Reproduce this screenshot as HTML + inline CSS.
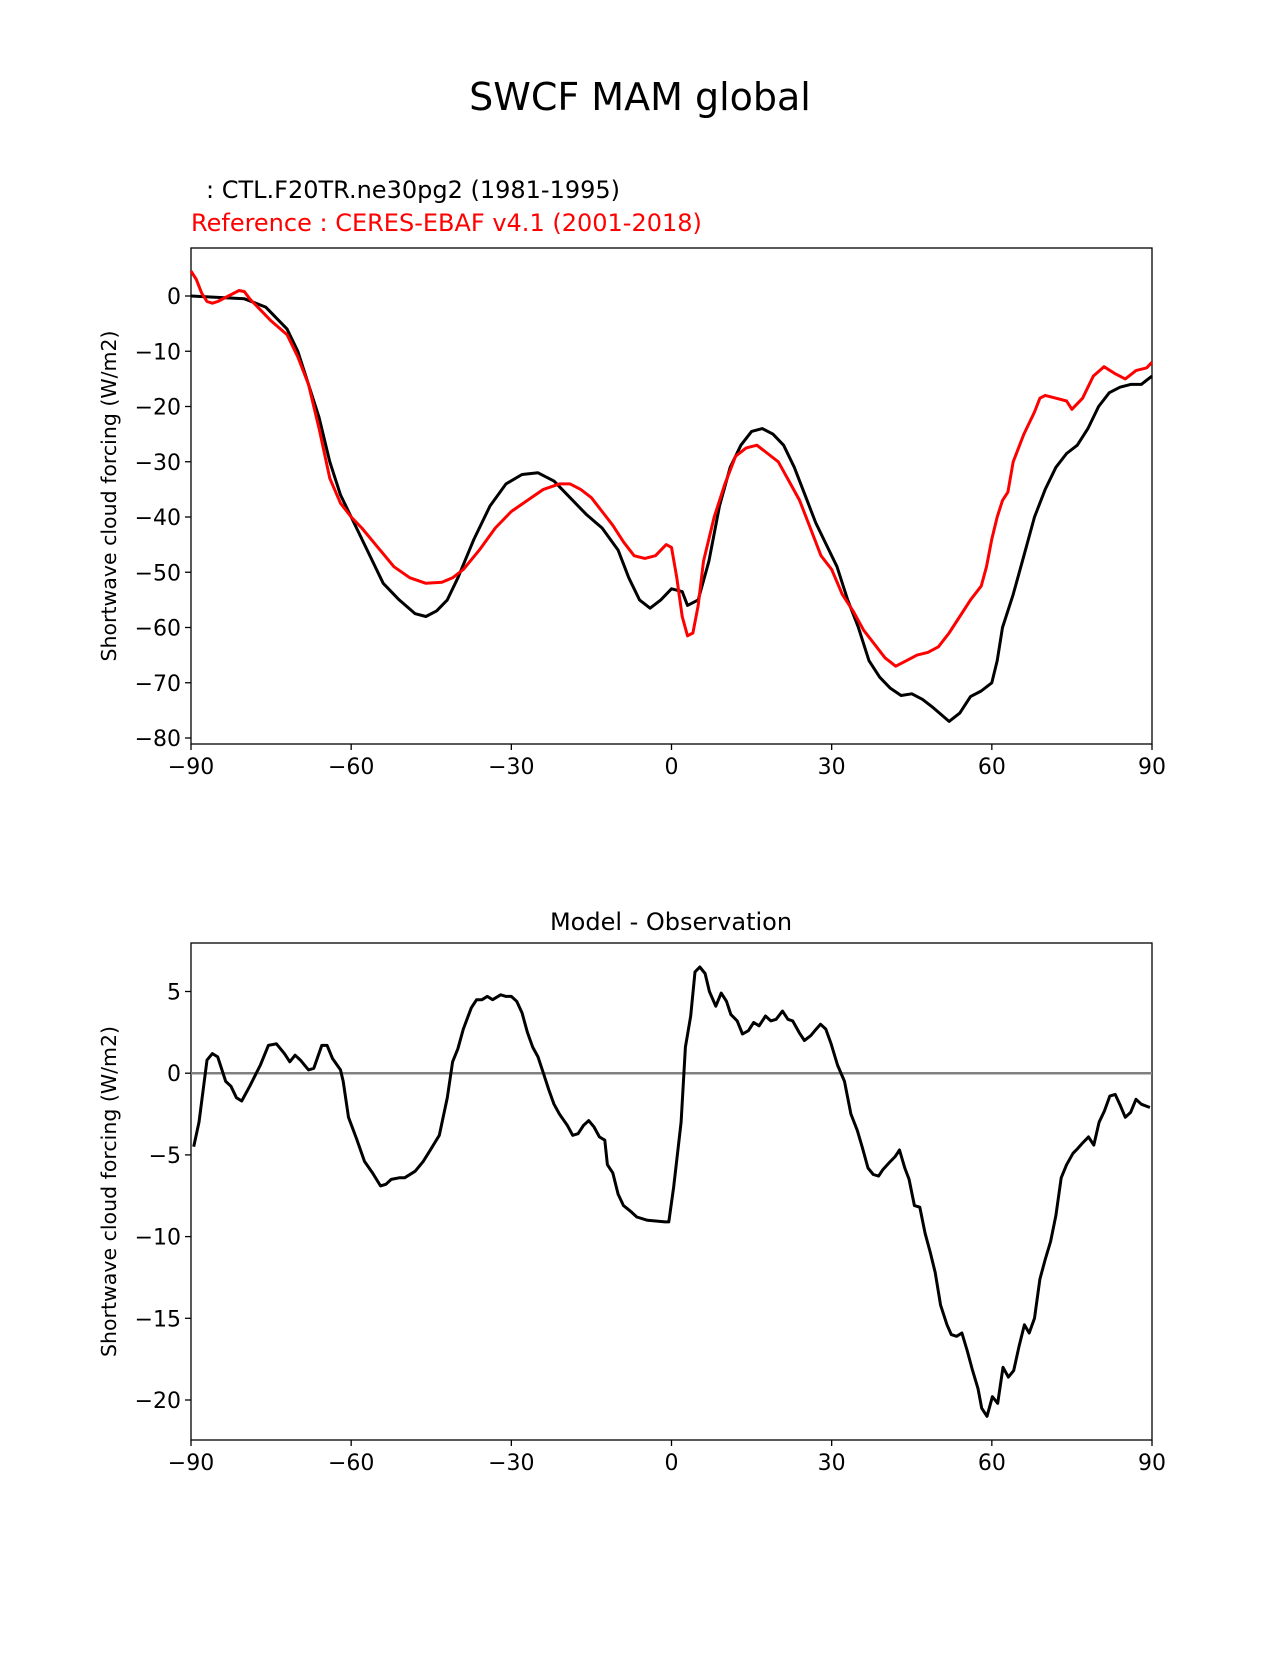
<!DOCTYPE html>
<html><head><meta charset="utf-8"><style>
body{margin:0;background:#fff;}
svg text{font-family:"DejaVu Sans","Liberation Sans",sans-serif;}
</style></head><body>
<svg id="fig" width="1275" height="1650" viewBox="0 0 1275 1650" xmlns="http://www.w3.org/2000/svg">
<rect width="1275" height="1650" fill="#fff"/>
<text x="640" y="110" font-size="38" text-anchor="middle">SWCF MAM global</text>
<text x="206" y="198" font-size="24">: CTL.F20TR.ne30pg2 (1981-1995)</text>
<text x="191" y="231" font-size="24" fill="#ff0000">Reference : CERES-EBAF v4.1 (2001-2018)</text>
<text x="671" y="930" font-size="24" text-anchor="middle">Model - Observation</text>
<g id="top"></g><g id="bot"></g>
</svg>
<script>
const modelLat=[-90,-80,-76,-72,-70,-68,-66,-64,-62,-60,-57,-54,-51,-48,-46,-44,-42,-40,-37,-34,-31,-28,-25,-22,-19,-16,-13,-10,-8,-6,-4,-2,0,2,3,5,7,9,11,13,15,17,19,21,23,25,27,29,31,33,35,37,39,41,43,45,47,49,52,54,56,58,60,61,62,64,66,68,70,72,74,76,78,80,82,84,86,88,90];
const modelVal=[0,-0.5,-2,-6,-10,-16,-22,-30,-36,-40,-46,-52,-55,-57.5,-58,-57,-55,-51,-44,-38,-34,-32.3,-32,-33.5,-36.5,-39.5,-42,-46,-51,-55,-56.5,-55,-53,-53.5,-56,-55,-48,-38,-31,-27,-24.5,-24,-25,-27,-31,-36,-41,-45,-49,-55,-60,-66,-69,-71,-72.3,-72,-73,-74.5,-77,-75.5,-72.5,-71.5,-70,-66,-60,-54,-47,-40,-35,-31,-28.5,-27,-24,-20,-17.5,-16.5,-16,-16,-14.5];
const refLat=[-90,-89,-88,-87,-86,-85,-83,-81,-80,-79,-77,-75,-72,-70,-68,-66,-64,-62,-60,-58,-55,-52,-49,-46,-43,-41,-39,-36,-33,-30,-27,-24,-21,-19,-17,-15,-13,-11,-9,-7,-5,-3,-1,0,1,2,3,4,5,6,8,10,12,14,16,18,20,22,24,26,28,30,32,34,36,38,40,42,44,46,48,50,52,54,56,58,59,60,61,62,63,64,66,68,69,70,72,74,75,77,79,81,83,85,87,89,90];
const refVal=[4.5,3,0.5,-1,-1.3,-1,0,1,0.8,-0.5,-2.5,-4.5,-7,-11,-16,-24,-33,-37.5,-40,-42,-45.5,-49,-51,-52,-51.8,-51,-49.5,-46,-42,-39,-37,-35,-34,-34,-35,-36.5,-39,-41.5,-44.5,-47,-47.5,-47,-45,-45.5,-51,-58,-61.5,-61,-56,-48,-40,-34,-29,-27.5,-27,-28.5,-30,-33.5,-37,-42,-47,-49.5,-54,-57,-60.5,-63,-65.5,-67,-66,-65,-64.5,-63.5,-61,-58,-55,-52.5,-49,-44,-40,-37,-35.5,-30,-25,-21,-18.5,-18,-18.5,-19,-20.5,-18.5,-14.5,-12.8,-14,-15,-13.5,-13,-12];
const diffLat=[-89.5,-88.5,-87,-86,-85,-83.5,-82.5,-81.5,-80.5,-79,-77,-75.5,-74,-72.5,-71.5,-70.5,-69.5,-68,-67,-65.5,-64.5,-63.5,-62,-61.5,-60.5,-59,-57.5,-56,-54.5,-53.5,-52.5,-51,-50,-48,-46.5,-45,-43.5,-42,-41,-40,-39,-37.5,-36.5,-35.5,-34.5,-33.5,-32,-31,-30,-29,-28,-27,-26,-25,-24,-23,-22,-21,-19.5,-18.5,-17.5,-16.5,-15.5,-14.5,-13.5,-12.5,-12,-11,-10,-9,-7.5,-6.5,-4.5,-1.2,-0.5,0.4,1.8,2.6,3.6,4.4,5.3,6.3,7.1,8.3,9.3,10.3,11.1,12.3,13.3,14.4,15.4,16.4,17.6,18.6,19.6,20.8,21.8,22.7,23.9,24.9,26.1,27.1,27.9,28.9,29.9,31.1,32.4,33.6,34.8,35.8,36.8,37.8,38.8,39.6,40.7,41.9,42.7,43.7,44.5,45.5,46.5,47.5,48.5,49.4,50.4,51.6,52.4,53.4,54.4,55.4,56.4,57.4,58.1,59.1,60.1,61.1,62.1,63.1,64.1,65.1,66.1,67,68,69,70,71,72,73,74,75.2,76.1,76.9,78.1,79.1,80.1,81.1,82.1,83.1,84.1,85,86,87,88,89.6];
const diffVal=[-4.5,-3,0.8,1.2,1,-0.5,-0.8,-1.5,-1.7,-0.8,0.5,1.7,1.8,1.2,0.7,1.1,0.8,0.2,0.3,1.7,1.7,0.9,0.2,-0.5,-2.7,-4,-5.4,-6.1,-6.9,-6.8,-6.5,-6.4,-6.4,-6,-5.4,-4.6,-3.8,-1.5,0.7,1.5,2.7,4,4.5,4.5,4.7,4.5,4.8,4.7,4.7,4.4,3.7,2.5,1.6,1,0,-1,-1.9,-2.5,-3.2,-3.8,-3.7,-3.2,-2.9,-3.3,-3.9,-4.1,-5.6,-6.1,-7.4,-8.1,-8.5,-8.8,-9.0,-9.1,-9.1,-7,-3,1.6,3.5,6.2,6.5,6.1,5,4.1,4.9,4.4,3.6,3.2,2.4,2.6,3.1,2.9,3.5,3.2,3.3,3.8,3.3,3.2,2.5,2,2.3,2.7,3,2.7,1.8,0.5,-0.5,-2.5,-3.5,-4.6,-5.8,-6.2,-6.3,-5.9,-5.5,-5.1,-4.7,-5.8,-6.5,-8.1,-8.2,-9.8,-11,-12.2,-14.2,-15.4,-16,-16.1,-15.9,-17,-18.2,-19.3,-20.5,-21,-19.8,-20.2,-18,-18.6,-18.2,-16.7,-15.4,-15.9,-15,-12.6,-11.4,-10.3,-8.7,-6.4,-5.6,-4.9,-4.6,-4.3,-3.9,-4.4,-3,-2.3,-1.4,-1.3,-2,-2.7,-2.4,-1.6,-1.9,-2.1];
const xTicks=[-90,-60,-30,0,30,60,90];
const topYTicks=[0,-10,-20,-30,-40,-50,-60,-70,-80];
const botYTicks=[5,0,-5,-10,-15,-20];
const NS='http://www.w3.org/2000/svg';
function mk(parent,tag,attrs){const e=document.createElementNS(NS,tag);for(const k in attrs)e.setAttribute(k,attrs[k]);parent.appendChild(e);return e;}
const X0=191,X1=1152;
const xs=lat=>X0+(lat+90)*(X1-X0)/180;
function panel(g,top,bottom,ys,yTicks,series,name,zero){
  mk(g,'rect',{x:X0,y:top,width:X1-X0,height:bottom-top,fill:'none',stroke:'#000','stroke-width':1.3});
  xTicks.forEach(t=>{
    const l=mk(g,'line',{x1:xs(t),x2:xs(t),y1:bottom,y2:bottom+6,stroke:'#000','stroke-width':1.3});
    
    
    const tx=mk(g,'text',{x:xs(t),y:bottom+30,'font-size':22,'text-anchor':'middle'});
    tx.textContent=(t<0?'\u2212'+(-t):t);
    
    
  });
  yTicks.forEach(t=>{
    const l=mk(g,'line',{x1:X0-6,x2:X0,y1:ys(t),y2:ys(t),stroke:'#000','stroke-width':1.3});
    
    
    const tx=mk(g,'text',{x:X0-10,y:ys(t)+8,'font-size':22,'text-anchor':'end'});
    tx.textContent=(t<0?'\u2212'+(-t):t);
    
    
  });
  const yl=mk(g,'text',{x:0,y:0,'font-size':20.5,'text-anchor':'middle',transform:`translate(116,${(top+bottom)/2}) rotate(-90)`});
  yl.textContent='Shortwave cloud forcing (W/m2)';
  
  
  if(zero){
    const z=mk(g,'line',{x1:X0,x2:X1,y1:ys(0),y2:ys(0),stroke:'#808080','stroke-width':2.5});
    
    
  }
  series.forEach(s=>{
    const d=s.lat.map((la,i)=>(i?'L':'M')+xs(la).toFixed(1)+','+ys(s.val[i]).toFixed(1)).join('');
    const p=mk(g,'path',{d:d,fill:'none',stroke:s.color,'stroke-width':3,'stroke-linejoin':'round'});
    
    
  });
}
const topY=v=>296-v*5.525;
panel(document.getElementById('top'),248,744,topY,topYTicks,[
  {lat:modelLat,val:modelVal,color:'#000',name:'model-line'},
  {lat:refLat,val:refVal,color:'#ff0000',name:'reference-line'}],'top',false);
const botY=v=>1073.2-v*16.34;
panel(document.getElementById('bot'),943,1440,botY,botYTicks,[
  {lat:diffLat,val:diffVal,color:'#000',name:'difference-line'}],'bottom',true);
</script>
</body></html>
